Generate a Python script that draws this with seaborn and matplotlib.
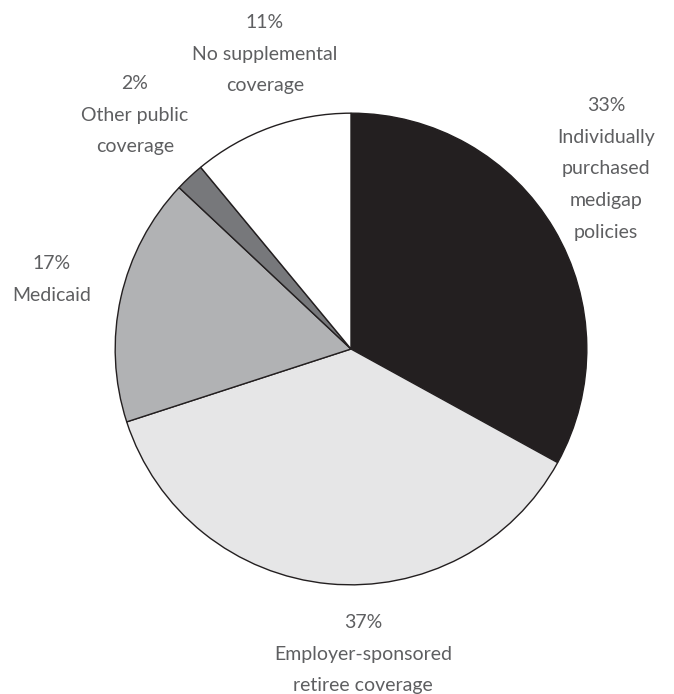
import matplotlib
matplotlib.use("Agg")
import matplotlib.pyplot as plt
import seaborn as sns

# Supplemental coverage shares (percent)
categories = [
    "Individually\npurchased\nmedigap\npolicies",
    "Employer-sponsored\nretiree coverage",
    "Medicaid",
    "Other public\ncoverage",
    "No supplemental\ncoverage",
]
shares = [33, 37, 17, 2, 11]
colors = ["#231f20", "#e6e6e7", "#b1b2b4", "#77787b", "#ffffff"]

sns.set_theme(style="white")
plt.rcParams["font.family"] = ["Lato", "DejaVu Sans"]

W, H = 674, 694
fig = plt.figure(figsize=(W / 100, H / 100), dpi=100)
fig.patch.set_facecolor("white")

cx, cy, r = 351, 349, 237
ax = fig.add_axes([(cx - r) / W, 1 - (cy + r) / H, 2 * r / W, 2 * r / H])
ax.pie(
    shares,
    colors=colors,
    startangle=90,
    counterclock=False,
    radius=1.0,
    wedgeprops=dict(edgecolor="#231f20", linewidth=1.0),
)
ax.set_xlim(-1.005, 1.005)
ax.set_ylim(-1.005, 1.005)
ax.set_aspect("equal")
ax.axis("off")

# label anchor positions (pixel centres of the first line)
label_pos = [(606, 105), (363, 622), (52, 263), (135, 83), (265, 22)]
txt_color = "#5e5f61"
for cat, val, (px, py) in zip(categories, shares, label_pos):
    fig.text(
        px / W, 1 - (py - 8) / H,
        f"{val}%\n{cat}",
        ha="center", va="top",
        fontsize=14, fontweight="normal",
        color=txt_color, linespacing=2.05,
    )

fig.savefig("out.png", dpi=100, facecolor="white")
